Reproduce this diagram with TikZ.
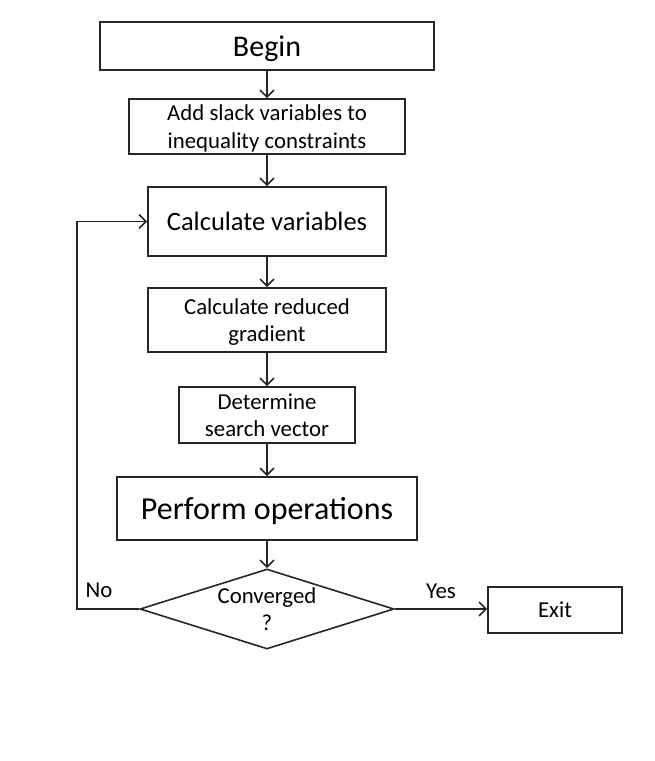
\documentclass[tikz,border=0pt]{standalone}
\usepackage{fontspec}
\setmainfont{Carlito}
\usepackage{tikz}
\usetikzlibrary{arrows.meta,shapes.geometric}

\begin{document}
\begin{tikzpicture}[x=1pt,y=-1pt,
  box/.style={draw=black!85,line width=1.6pt,rectangle,inner sep=0pt,align=center,text depth=0pt,
              font=\fontsize{22.8}{27.4}\selectfont},
  arr/.style={line width=1.6pt,draw=black!85,-{Straight Barb[length=7pt,width=14pt,line width=1.6pt]}}]
  \useasboundingbox (0,0) rectangle (655,761);
  \node[box,minimum width=334,minimum height=48,font=\fontsize{30}{36}\selectfont] (begin) at (267,46){Begin};
  \node[box,minimum width=276,minimum height=55] (slack) at (267,126.5){Add slack variables to\\inequality constraints};
  \node[box,minimum width=238,minimum height=69,font=\fontsize{26.5}{32}\selectfont] (calcvar) at (267,221.5){Calculate variables};
  \node[box,minimum width=238,minimum height=64] (gradient) at (267,320){Calculate reduced\\gradient};
  \node[box,minimum width=176,minimum height=56] (search) at (267,415){Determine\\search vector};
  \node[box,minimum width=300,minimum height=63,font=\fontsize{32}{38}\selectfont] (perform) at (267,508.5){Perform operations};
  \node[box,diamond,shape aspect=3.17,minimum width=254,minimum height=80] (conv) at (267,609){Converged\\?};
  \node[box,minimum width=134,minimum height=46] (exit) at (555,610){Exit};
  \coordinate (loop) at (77,609);
  % main chain
  \foreach \a/\b in {begin/slack,slack/calcvar,calcvar/gradient,gradient/search,search/perform,perform/conv}
    {\draw[arr] (\a) -- (\b);}
  \draw[arr] (conv.east) -- (exit.west |- conv.east) node[pos=0.5,above=6pt,font=\fontsize{22.8}{27}\selectfont]{Yes};
  \draw[arr] (conv.west) -- (loop) |- (calcvar.west);
  \node[font=\fontsize{22.8}{27}\selectfont] (no) at (99,590){No};
\end{tikzpicture}
\end{document}
